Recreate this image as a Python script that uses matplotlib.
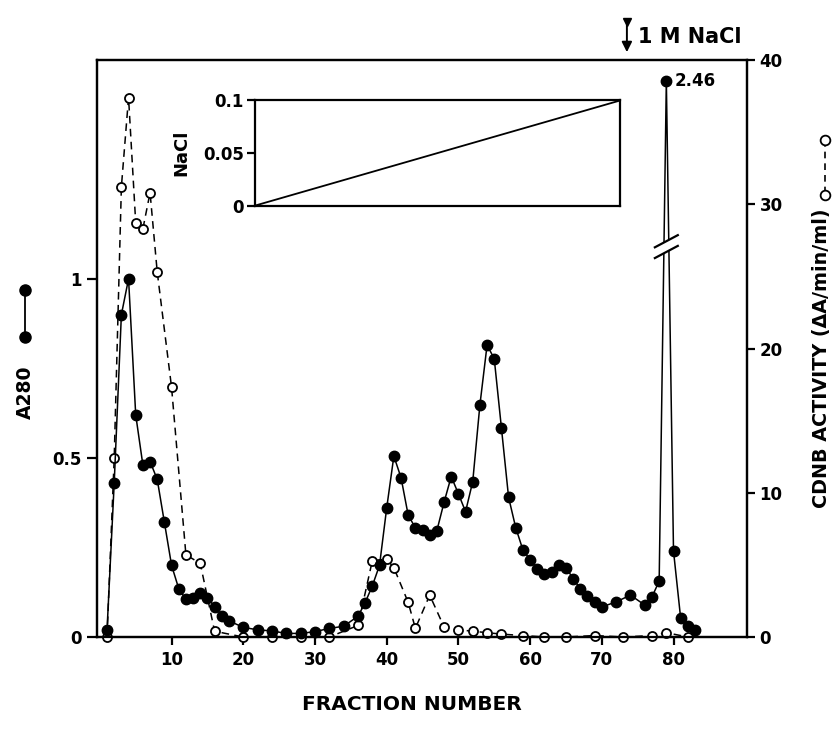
import matplotlib
matplotlib.use("Agg")
import matplotlib.pyplot as plt
from matplotlib.lines import Line2D
from matplotlib.patches import Polygon

plt.rcParams["font.family"] = ["DejaVu Sans"]
plt.rcParams["font.weight"] = "bold"

# ---------------- data ----------------
a280_fraction = [1, 2, 3, 4, 5, 6, 7, 8, 9, 10, 11, 12, 13, 14, 15, 16, 17, 18,
                 20, 22, 24, 26, 28, 30, 32, 34, 36,
                 37, 38, 39, 40, 41, 42, 43, 44, 45, 46, 47, 48, 49, 50, 51, 52,
                 53, 54, 55, 56, 57, 58, 59, 60, 61, 62, 63, 64, 65, 66, 67, 68,
                 69, 70, 72, 74, 76, 77, 78, 79, 80, 81, 82, 83]
a280_value = [0.02, 0.43, 0.90, 1.00, 0.62, 0.48, 0.49, 0.44, 0.32, 0.20, 0.135,
              0.105, 0.11, 0.124, 0.11, 0.085, 0.06, 0.045,
              0.027, 0.02, 0.017, 0.01, 0.01, 0.015, 0.024, 0.03, 0.058,
              0.096, 0.143, 0.20, 0.36, 0.505, 0.445, 0.34, 0.305, 0.30, 0.286,
              0.297, 0.376, 0.448, 0.40, 0.35, 0.434,
              0.648, 0.815, 0.777, 0.584, 0.39, 0.305, 0.243, 0.216, 0.19, 0.177,
              0.181, 0.20, 0.194, 0.163, 0.135, 0.114, 0.098, 0.084,
              0.098, 0.117, 0.089, 0.112, 0.156, 2.46, 0.24, 0.052, 0.031, 0.019]

cdnb_fraction = [1, 2, 3, 4, 5, 6, 7, 8, 10, 12, 14, 16, 20, 24, 28, 32, 36, 38,
                 40, 41, 43, 44, 46, 48, 50, 52, 54, 56, 59, 62, 65, 69, 73, 77,
                 79, 82]
cdnb_value = [0, 12.4, 31.2, 37.4, 28.7, 28.3, 30.8, 25.3, 17.3, 5.7, 5.1, 0.4,
              0, 0, 0, 0, 0.8, 5.3, 5.4, 4.8, 2.4, 0.6, 2.9, 0.7, 0.5, 0.4, 0.3,
              0.2, 0.1, 0, 0, 0.1, 0, 0.1, 0.3, 0]

x_ticks = [10, 20, 30, 40, 50, 60, 70, 80]
a280_ticks = [0, 0.5, 1]
a280_tick_labels = ["0", "0.5", "1"]
cdnb_ticks = [0, 10, 20, 30, 40]
nacl_ticks = [0, 0.05, 0.1]
nacl_tick_labels = ["0", "0.05", "0.1"]
gradient_fraction = [21.6, 72.6]
gradient_nacl = [0.0, 0.1]
step_fraction = 73.5          # 1 M NaCl step

# ---------------- layout constants ----------------
W, H = 839, 731
CDNB_MAX = 40.0
A280_MAX = 1.611
PEAK_SHOWN = 1.553            # where the off-scale A280 point is drawn
BREAK_LEVEL = 1.075

fig = plt.figure(figsize=(W / 100, H / 100), dpi=100)
ax = fig.add_axes([97 / W, 1 - 637 / H, (747 - 97) / W, (637 - 60) / H])
ax2 = ax.twinx()

# CDNB on ax (right side), A280 on ax2 (left side, drawn on top)
ax.set_xlim(-0.4, 90.25)
ax.set_ylim(0, CDNB_MAX)
ax2.set_ylim(0, A280_MAX)
ax.yaxis.tick_right()
ax2.yaxis.tick_left()

for a in (ax, ax2):
    for s in a.spines.values():
        s.set_linewidth(1.6)

ax.set_xticks(x_ticks)
ax.set_xticklabels([str(t) for t in x_ticks])
ax.tick_params(axis="x", direction="out", length=6, width=1.6, labelsize=12, pad=4)
ax.set_yticks(cdnb_ticks)
ax.set_yticklabels([str(t) for t in cdnb_ticks])
ax.tick_params(axis="y", direction="out", length=6, width=1.6, labelsize=12, pad=3,
               right=True, left=False, labelright=True, labelleft=False)
ax2.set_yticks(a280_ticks)
ax2.set_yticklabels(a280_tick_labels)
ax2.tick_params(axis="y", direction="out", length=7, width=1.6, labelsize=12, pad=4,
                left=True, right=False, labelleft=True, labelright=False)

# CDNB activity
ax.plot(cdnb_fraction, cdnb_value, color="black", lw=1.1, ls=(0, (5, 3.5)),
        marker="o", ms=6.5, mfc="white", mec="black", mew=1.3, clip_on=False,
        zorder=3)

# A280 (off-scale value drawn at the top of the broken axis)
a280_shown = [min(v, PEAK_SHOWN) for v in a280_value]
ax2.plot(a280_fraction, a280_shown, color="black", lw=1.1, marker="o", ms=7.5,
         mfc="black", mec="black", clip_on=False, zorder=4)

peak_idx = max(range(len(a280_value)), key=lambda i: a280_value[i])
peak_f = a280_fraction[peak_idx]
ax2.annotate(f"{a280_value[peak_idx]:.2f}", xy=(peak_f, PEAK_SHOWN),
             xytext=(6, 0), textcoords="offset points", ha="left", va="center",
             fontsize=12, fontweight="bold")

# axis break marks on the spike
dx, dy, gap = 1.6, 0.017, 0.03
lo = [(peak_f - dx, BREAK_LEVEL - dy), (peak_f + dx, BREAK_LEVEL + dy)]
hi = [(x, y + gap) for x, y in lo]
ax2.add_patch(Polygon([lo[0], lo[1], hi[1], hi[0]], closed=True, fc="white",
                      ec="none", zorder=6))
for seg in (lo, hi):
    ax2.plot([p[0] for p in seg], [p[1] for p in seg], color="black", lw=1.6,
             zorder=7)

# 1 M NaCl arrow
ax.annotate("", xy=(step_fraction, 40.35), xytext=(step_fraction, 42.9),
            arrowprops=dict(arrowstyle="-|>,head_length=0.6,head_width=0.3",
                            color="black", lw=1.4), annotation_clip=False)
ax.plot([step_fraction], [42.6], marker="v", ms=6, color="black", clip_on=False)
ax.text(step_fraction + 1.6, 41.6, "1 M NaCl", ha="left", va="center",
        fontsize=15, fontweight="bold")

# inset: NaCl gradient
ins = ax.inset_axes([gradient_fraction[0], 29.9,
                     gradient_fraction[1] - gradient_fraction[0], 7.3],
                    transform=ax.transData)
ins.plot(gradient_fraction, gradient_nacl, color="black", lw=1.3)
ins.set_xlim(gradient_fraction)
ins.set_ylim(0, 0.1)
ins.set_xticks([])
ins.set_yticks(nacl_ticks)
ins.set_yticklabels(nacl_tick_labels)
ins.tick_params(axis="y", direction="out", length=6, width=1.6, labelsize=12, pad=2)
for s in ins.spines.values():
    s.set_linewidth(1.6)
ins.set_ylabel("NaCl", fontsize=13, fontweight="bold")
ins.yaxis.set_label_coords(-0.175, 0.5)

# axis titles with symbol keys
fig.text(412 / W, 1 - 705 / H, "FRACTION NUMBER", ha="center", va="center",
         fontsize=14.5, fontweight="bold")
fig.text(25 / W, 1 - 392 / H, "A280", rotation=90, ha="center", va="center",
         fontsize=13.5, fontweight="bold")
fig.add_artist(Line2D([25 / W, 25 / W], [1 - 290 / H, 1 - 337 / H],
                      transform=fig.transFigure, color="black", lw=1.3,
                      marker="o", ms=8, mfc="black"))
fig.text(822 / W, 1 - 358 / H, "CDNB ACTIVITY (ΔA/min/ml)", rotation=90,
         ha="center", va="center", fontsize=13.8, fontweight="bold")
fig.add_artist(Line2D([825 / W, 825 / W], [1 - 140 / H, 1 - 195 / H],
                      transform=fig.transFigure, color="black", lw=1.2,
                      ls=(0, (4, 3)), marker="o", ms=7, mfc="white", mew=1.3))

fig.savefig("out.png", dpi=100)
